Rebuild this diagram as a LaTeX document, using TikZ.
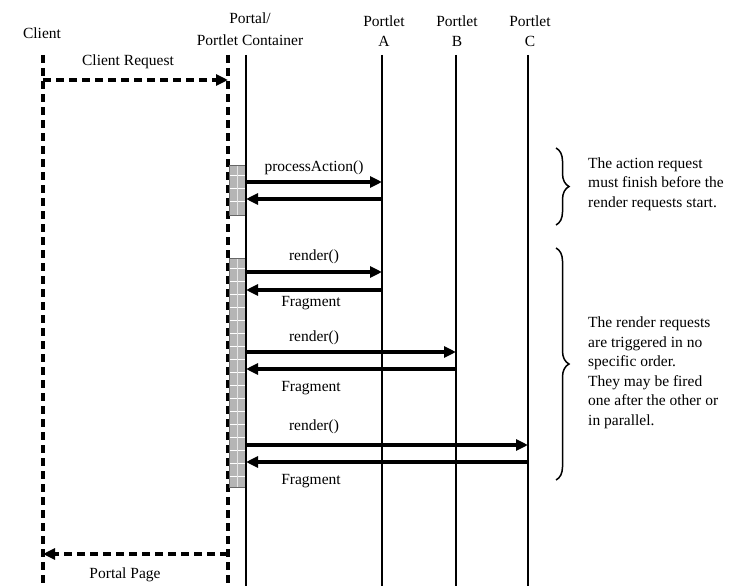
\documentclass[tikz,border=0pt]{standalone}
\usepackage{fontspec}
\setmainfont{Liberation Serif}
\usetikzlibrary{arrows.meta,decorations.pathreplacing}
\begin{document}
\begin{tikzpicture}[x=1pt, y=-1pt, font=\fontsize{15.5}{19.5}\selectfont, line join=miter,
    >={Triangle[length=12pt,width=11pt]},
    life/.style={line width=2.4pt},
    dlife/.style={line width=3.2pt, dash pattern=on 8pt off 5pt},
    msg/.style={line width=3.1pt, ->},
    dmsg/.style={line width=3.2pt, dash pattern=on 8pt off 5pt, ->},
    actbox/.style={fill=gray!40},
    note/.style={anchor=west, align=left, inner sep=0pt}]
	\useasboundingbox (0,0) rectangle (731,586);
	\def\ytop{55} \def\ybot{586}
	%\draw[color=gray!50,dashed] (0,0) grid[step=50] (731,586);
	% heads
	\node (client) at (42,33) {Client};
	\node[align=center, inner sep=0pt] (portal) at (250,29) {Portal/\\[3pt]Portlet Container};
	\node[align=center, inner sep=0pt] (headA) at (384,31) {Portlet\\[1pt]A};
	\node[align=center, inner sep=0pt] (headB) at (457,31) {Portlet\\[1pt]B};
	\node[align=center, inner sep=0pt] (headC) at (530,31) {Portlet\\[1pt]C};
	% lifelines
	\coordinate (cl) at (43,\ytop);
	\coordinate (pt) at (228,\ytop);
	\coordinate (pc) at (246,\ytop);
	\coordinate (pa) at (382,\ytop);
	\coordinate (pb) at (456,\ytop);
	\coordinate (pcc) at (528,\ytop);
	\draw[dlife] (cl)--(cl |- 0,\ybot);
	\draw[dlife] (pt)--(pt |- 0,\ybot);
	% activation boxes
	\foreach \ya/\yb/\n in {165/215/2, 258/487/16}{
		\fill[actbox] (229,\ya) rectangle (246,\yb);
		\foreach \y in {\ya,...,\yb} \draw[gray!58, line width=.4pt] (229,\y+.5)--(246,\y+.5);
		\foreach \k in {0,...,\n} \draw[white, line width=.7pt] (229,\ya+10+13*\k)--(246,\ya+10+13*\k);
		\draw[white!80!gray, line width=.5pt] (237,\ya)--(237,\yb);
		\draw[black!60, line width=.7pt] (229,\ya) rectangle (246,\yb);
	}
	\foreach \p in {pc,pa,pb,pcc} \draw[life] (\p)--(\p |- 0,\ybot);
	% client request and portal page
	\draw[dmsg] (cl |- 0,80)--(pt |- 0,80);
	\node (req) at (128,62) {Client Request};
	\draw[dmsg] (pt |- 0,554)--(cl |- 0,554);
	\node (page) at (125,575) {Portal Page};
	% action request
	\draw[msg] (pc |- 0,182)--(pa |- 0,182);
	\draw[msg] (pa |- 0,199)--(pc |- 0,199);
	\node (act) at (314,168) {processAction()};
	% render requests
	\draw[msg] (pc |- 0,272)--(pa |- 0,272);
	\draw[msg] (pa |- 0,290)--(pc |- 0,290);
	\node (renA) at (314,257) {render()};
	\node (fragA) at (311,303) {Fragment};
	\draw[msg] (pc |- 0,352)--(pb |- 0,352);
	\draw[msg] (pb |- 0,369)--(pc |- 0,369);
	\node (renB) at (314,338) {render()};
	\node (fragB) at (311,388) {Fragment};
	\draw[msg] (pc |- 0,445)--(pcc |- 0,445);
	\draw[msg] (pcc |- 0,462)--(pc |- 0,462);
	\node (renC) at (314,427) {render()};
	\node (fragC) at (311,481) {Fragment};
	% braces and notes
	\draw[decorate, decoration={brace, amplitude=13pt}, line width=1.5pt] (556,148)--(556,225);
	\draw[decorate, decoration={brace, amplitude=13pt}, line width=1.5pt] (556,248)--(556,480);
	\node[note] (actnote) at (588,184) {The action request\\must finish before the\\render requests start.};
	\node[note] (rendernote) at (588,373) {The render requests\\are triggered in no\\specific order.\\They may be fired\\one after the other or\\in parallel.};
\end{tikzpicture}
\end{document}
